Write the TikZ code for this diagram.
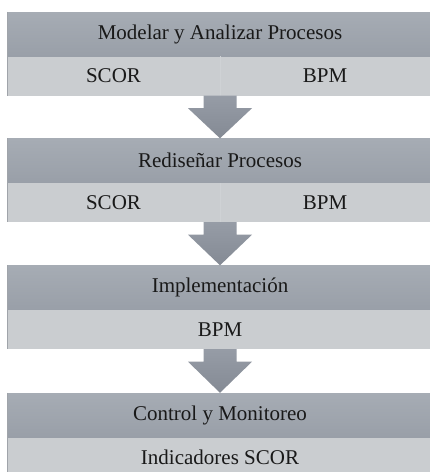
\documentclass[tikz,border=0pt]{standalone}
\usepackage{fontspec}
\setmainfont{Liberation Serif}
\usetikzlibrary{calc}
\definecolor{hdrtop}{RGB}{166,172,180}
\definecolor{hdrbot}{RGB}{153,159,168}
\definecolor{low}{RGB}{202,205,208}
\definecolor{arrtop}{RGB}{150,156,166}
\definecolor{arrbot}{RGB}{132,138,148}
\definecolor{edge}{RGB}{160,164,170}
\definecolor{divline}{RGB}{207,210,213}
\begin{document}
\begin{tikzpicture}[x=1pt,y=-1pt,
  hdrbox/.style={rectangle, inner sep=0pt, minimum width=426pt, minimum height=44.5pt,
    top color=hdrtop, bottom color=hdrbot, draw=none,
    font=\fontsize{21}{24}\selectfont, text=black!90},
  lowbox/.style={rectangle, inner sep=0pt, minimum width=426pt, minimum height=39pt,
    fill=low, draw=none},
  lbl/.style={inner sep=0pt, font=\fontsize{21}{24}\selectfont, text=black!90},
  arrowshape/.style={top color=arrtop, bottom color=arrbot, draw=none}
]
\useasboundingbox (0,0) rectangle (430,472);
\fill[white] (0,0) rectangle (430,472);

% Box 1
\node[hdrbox] (h1) at (220,34.25) {Modelar y Analizar Procesos};
\node[lowbox] (l1) at (220,76) {};
\node[lbl] (s1) at (113.5,76) {SCOR};
\node[lbl] (b1) at (325,76) {BPM};

% Box 2
\node[hdrbox] (h2) at (220,160.75) {Rediseñar Procesos};
\node[lowbox] (l2) at (220,202.5) {};
\node[lbl] (s2) at (113.5,202.5) {SCOR};
\node[lbl] (b2) at (325,202.5) {BPM};

% Box 3
\node[hdrbox] (h3) at (220,287.75) {Implementación};
\node[lowbox] (l3) at (220,329.5) {};
\node[lbl] (b3) at (220,329.5) {BPM};

% Box 4
\node[hdrbox] (h4) at (220,415.25) {Control y Monitoreo};
\node[lowbox] (l4) at (220,457) {};
\node[lbl] (i4) at (220,457) {Indicadores SCOR};

% faint dividers in two-item rows
\draw[divline, line width=0.8pt] (l1.north) -- (l1.south);
\draw[divline, line width=0.8pt] (l2.north) -- (l2.south);

% left edges
\foreach \h/\l in {h1/l1,h2/l2,h3/l3,h4/l4}{
  \draw[edge, line width=1pt] ($(\h.north west)+(0.5,0)$) -- ($(\l.south west)+(0.5,0)$);
}

% arrows
\foreach \a/\b in {l1/h2,l2/h3,l3/h4}{
  \path[arrowshape]
    ($(\a.south)+(-16.5,0)$) -- ($(\a.south)+(16.5,0)$) --
    ($(\a.south)+(16.5,12.5)$) -- ($(\a.south)+(32,12.5)$) --
    (\b.north) --
    ($(\a.south)+(-32,12.5)$) -- ($(\a.south)+(-16.5,12.5)$) -- cycle;
}
\end{tikzpicture}
\end{document}
